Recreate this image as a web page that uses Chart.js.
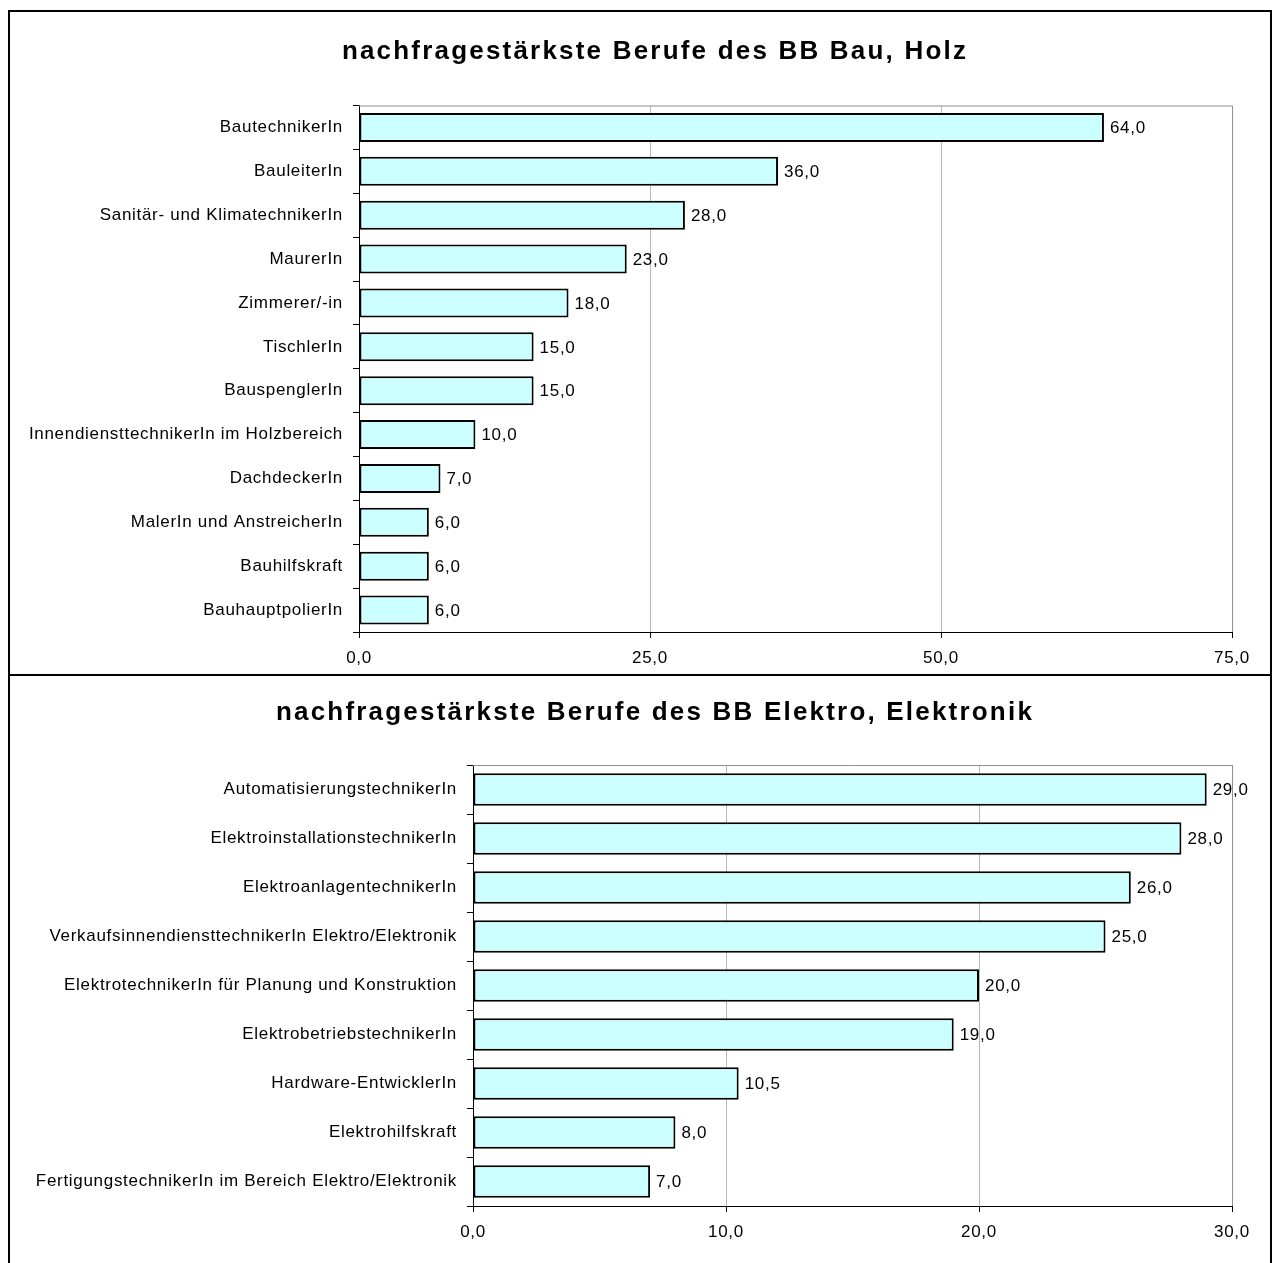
<!DOCTYPE html>
<html>
<head>
<meta charset="utf-8">
<script src="https://cdn.jsdelivr.net/npm/chart.js@4/dist/chart.umd.min.js"></script>
<style>
    body { margin: 0; background: #fff; overflow: hidden; }
    .box { position: absolute; left: 8px; width: 1264px; border: 2px solid #000; box-sizing: border-box; }
    #box1 { top: 10px; height: 666px; }
    #box2 { top: 674px; height: 700px; }
    .wrap { position: relative; width: 1260px; }
    .title {
        position: absolute; left: 40px; width: 1230px; text-align: center;
        font: bold 26px "Liberation Sans", Arial, sans-serif; letter-spacing: 2.2px;
        line-height: 30px; color: #000; z-index: 2;
    }
</style>
</head>
<body>
<div class="box" id="box1"><div class="wrap" style="height:662px"><canvas id="bauChart"></canvas></div></div>
<div class="box" id="box2"><div class="wrap" style="height:587px"><canvas id="elektroChart"></canvas></div></div>
<div class="title" style="top:35px">nachfragestärkste Berufe des BB Bau, Holz</div>
<div class="title" style="top:696px">nachfragestärkste Berufe des BB Elektro, Elektronik</div>
<script>
const bauLabels = ['BautechnikerIn', 'BauleiterIn', 'Sanitär- und KlimatechnikerIn', 'MaurerIn', 'Zimmerer/-in',
    'TischlerIn', 'BauspenglerIn', 'InnendiensttechnikerIn im Holzbereich', 'DachdeckerIn',
    'MalerIn und AnstreicherIn', 'Bauhilfskraft', 'BauhauptpolierIn'];
const bauValues = [64, 36, 28, 23, 18, 15, 15, 10, 7, 6, 6, 6];
const bauTicks = [0, 25, 50, 75];

const elektroLabels = ['AutomatisierungstechnikerIn', 'ElektroinstallationstechnikerIn', 'ElektroanlagentechnikerIn',
    'VerkaufsinnendiensttechnikerIn Elektro/Elektronik', 'ElektrotechnikerIn für Planung und Konstruktion',
    'ElektrobetriebstechnikerIn', 'Hardware-EntwicklerIn', 'Elektrohilfskraft',
    'FertigungstechnikerIn im Bereich Elektro/Elektronik'];
const elektroValues = [29, 28, 26, 25, 20, 19, 10.5, 8, 7];
const elektroTicks = [0, 10, 20, 30];

const fmt = v => v.toFixed(1).replace('.', ',');
const FONT = '"Liberation Sans", Arial, sans-serif';

// gray frame around the plot area + value labels at the bar ends
const framePlugin = {
    id: 'frame',
    beforeDraw(chart) {
        chart.ctx.letterSpacing = '0.7px';
    },
    beforeDatasetsDraw(chart) {
        const { ctx, chartArea: a } = chart;
        ctx.save();
        ctx.strokeStyle = '#909090';
        ctx.lineWidth = 1;
        ctx.beginPath();
        ctx.moveTo(a.left, a.top + 0.5);
        ctx.lineTo(a.right + 0.5, a.top + 0.5);
        ctx.lineTo(a.right + 0.5, a.bottom);
        ctx.stroke();
        ctx.restore();
    },
    afterDatasetsDraw(chart) {
        const { ctx } = chart;
        const values = chart.data.datasets[0].data;
        ctx.save();
        ctx.font = '17px ' + FONT;
        ctx.fillStyle = '#000';
        ctx.textBaseline = 'middle';
        chart.getDatasetMeta(0).data.forEach((bar, i) => {
            ctx.fillText(fmt(values[i]), bar.x + 6, bar.y + 1);
        });
        ctx.restore();
    }
};

function makeChart(id, labels, values, ticks, yWidth, topPad, xHeight, bottomPad) {
    const ctx = document.getElementById(id).getContext('2d');
    return new Chart(ctx, {
        type: 'bar',
        data: {
            labels: labels,
            datasets: [{
                data: values,
                backgroundColor: '#CCFFFF',
                borderColor: '#000',
                borderWidth: 2,
                borderSkipped: false,
                barPercentage: 0.66,
                categoryPercentage: 1
            }]
        },
        options: {
            indexAxis: 'y',
            responsive: true,
            maintainAspectRatio: false,
            animation: false,
            layout: { padding: { left: 0, right: 38, top: topPad, bottom: bottomPad } },
            plugins: {
                legend: { display: false },
                tooltip: { enabled: false },
                title: { display: false }
            },
            scales: {
                x: {
                    min: ticks[0],
                    max: ticks[ticks.length - 1],
                    afterBuildTicks: scale => { scale.ticks = ticks.map(v => ({ value: v })); },
                    afterFit: scale => { scale.height = xHeight; },
                    grid: { color: '#b8b8b8', tickColor: '#000', tickLength: 6 },
                    border: { color: '#000', width: 1 },
                    ticks: {
                        color: '#000',
                        padding: 10,
                        maxRotation: 0,
                        font: { family: FONT, size: 17 },
                        callback: v => fmt(v)
                    }
                },
                y: {
                    afterFit: scale => { scale.width = yWidth; },
                    grid: { offset: true, drawOnChartArea: false, tickColor: '#000', tickLength: 6 },
                    border: { color: '#000', width: 1 },
                    ticks: {
                        color: '#000',
                        padding: 10,
                        font: { family: FONT, size: 17 }
                    }
                }
            }
        },
        plugins: [framePlugin]
    });
}

makeChart('bauChart', bauLabels, bauValues, bauTicks, 349, 93.5, 42, 0);
makeChart('elektroChart', elektroLabels, elektroValues, elektroTicks, 463, 89, 42, 15);
</script>
</body>
</html>
